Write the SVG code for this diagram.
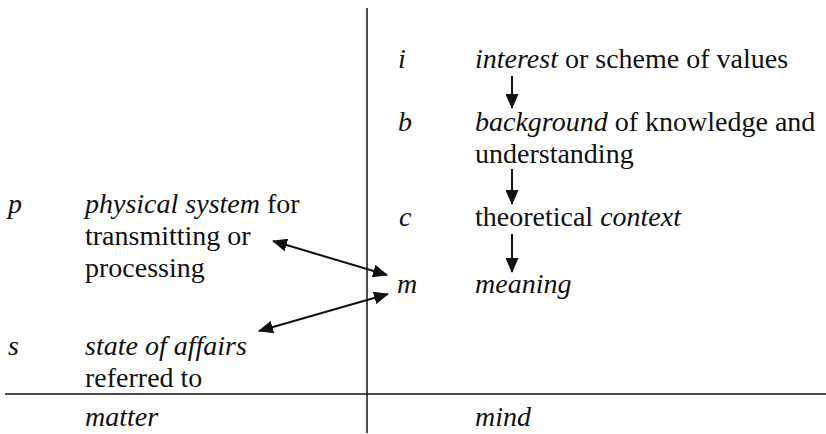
<svg xmlns="http://www.w3.org/2000/svg" width="826" height="434" viewBox="0 0 826 434">
<style>
.t{font-family:'Liberation Serif','Times New Roman','DejaVu Serif',serif;font-size:28px;fill:#111}
.it{font-style:italic}
.ln{stroke:#111;stroke-width:1.5;fill:none}
.ar{stroke:#111;stroke-width:2;fill:none;marker-end:url(#ah)}
.dar{stroke:#111;stroke-width:2;fill:none;marker-end:url(#ah);marker-start:url(#ah)}
</style>
<defs>
<marker id="ah" viewBox="0 0 15 13" refX="14" refY="6.5" markerWidth="15" markerHeight="13" markerUnits="userSpaceOnUse" orient="auto-start-reverse">
<path d="M0,0 L15,6.5 L0,13 Z" fill="#111"/>
</marker>
</defs>
<g id="axes">
<line class="ln" x1="367" y1="8" x2="367" y2="433"/>
<line class="ln" x1="5" y1="394" x2="826" y2="394"/>
</g>
<g class="t" font-family="Liberation Serif, Times New Roman, DejaVu Serif, serif">
<g id="node-i"><text x="398" y="68" class="it">i</text><text x="475" y="68"><tspan class="it">interest</tspan> or scheme of values</text></g>
<g id="node-b"><text x="398" y="131" class="it">b</text><text x="475" y="131"><tspan class="it">background</tspan> of knowledge and</text><text x="475" y="163">understanding</text></g>
<g id="node-c"><text x="399" y="226" class="it">c</text><text x="475" y="226">theoretical <tspan class="it">context</tspan></text></g>
<g id="node-m"><text x="397" y="293" class="it">m</text><text x="475" y="293" class="it">meaning</text></g>
<g id="node-p"><text x="8" y="213" class="it">p</text><text x="85" y="213"><tspan class="it">physical system</tspan> for</text><text x="85" y="245">transmitting or</text><text x="85" y="277">processing</text></g>
<g id="node-s"><text x="8" y="355" class="it">s</text><text x="85" y="355" class="it">state of affairs</text><text x="85" y="387">referred to</text></g>
<g id="labels"><text x="85" y="426" class="it">matter</text><text x="475" y="426" class="it">mind</text></g>
</g>
<g id="connectors">
<line class="ar" x1="512" y1="76" x2="512" y2="108"/>
<line class="ar" x1="512" y1="169" x2="512" y2="204"/>
<line class="ar" x1="512" y1="234" x2="512" y2="272"/>
<line class="dar" x1="273" y1="241" x2="387" y2="275"/>
<line class="dar" x1="259" y1="331" x2="388" y2="294"/>
</g>
</svg>
